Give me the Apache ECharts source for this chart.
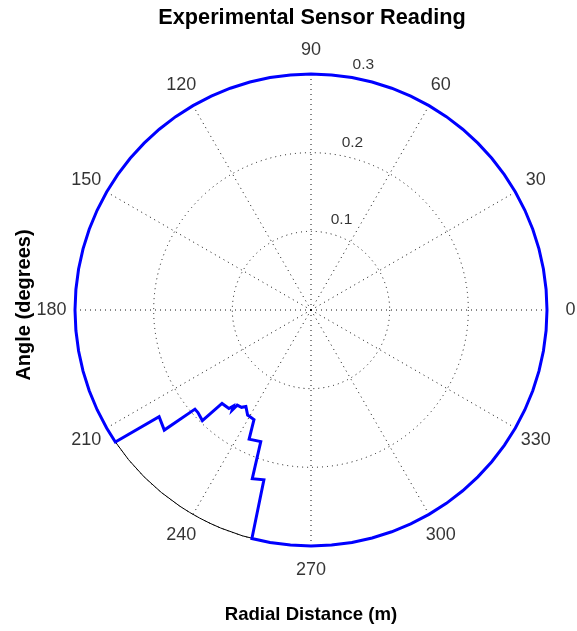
<!DOCTYPE html>
<html>
<head>
<meta charset="utf-8">
<title>Experimental Sensor Reading</title>
<script src="https://cdn.jsdelivr.net/npm/echarts@6/dist/echarts.min.js"></script>
<style>
  html, body { margin: 0; padding: 0; background: #fff; }
  #chart { width: 577px; height: 631px; }
</style>
</head>
<body>
<div id="chart"></div>
<script>
// Sensor trace: angle (degrees) and radial distance (m)
const traceAngle = [
  0, 5, 10, 15, 20, 25, 30, 35, 40, 45, 50, 55, 60, 65, 70, 75, 80, 85, 90,
  95, 100, 105, 110, 115, 120, 125, 130, 135, 140, 145, 150, 155, 160, 165,
  170, 175, 180, 185, 190, 195, 200, 205, 210,
  214.0, 215.1, 219.3, 220.5, 222.2, 225.5, 226.4, 230.2, 231.0, 231.8,
  232.2, 234.5, 236.0, 238.9, 242.5, 244.4, 249.1, 250.8, 254.5, 255.5,
  260, 265, 270, 275, 280, 285, 290, 295, 300, 305, 310, 315, 320, 325,
  330, 335, 340, 345, 350, 355, 360
];
const traceRange = [
  0.300, 0.300, 0.300, 0.300, 0.300, 0.300, 0.300, 0.300, 0.300, 0.300,
  0.300, 0.300, 0.300, 0.300, 0.300, 0.300, 0.300, 0.300, 0.300, 0.300,
  0.300, 0.300, 0.300, 0.300, 0.300, 0.300, 0.300, 0.300, 0.300, 0.300,
  0.300, 0.300, 0.300, 0.300, 0.300, 0.300, 0.300, 0.300, 0.300, 0.300,
  0.300, 0.300, 0.300,
  0.300, 0.236, 0.241, 0.194, 0.194, 0.197, 0.164, 0.163, 0.157, 0.162,
  0.153, 0.152, 0.148, 0.156, 0.157, 0.182, 0.179, 0.227, 0.224, 0.300,
  0.300, 0.300, 0.300, 0.300, 0.300, 0.300, 0.300, 0.300, 0.300, 0.300,
  0.300, 0.300, 0.300, 0.300, 0.300, 0.300, 0.300, 0.300, 0.300, 0.300,
  0.300
];

// Angle tick labels and radial ring labels
const angleTicks = [0, 30, 60, 90, 120, 150, 180, 210, 240, 270, 300, 330];
const ringTicks = [0.1, 0.2, 0.3];

const RMAX = 0.3;
const CENTER = [311, 310];
const RADIUS = 236;
// the trace gets its own, slightly larger, polar frame with the same scale
// so the polar clip region does not cut the outer half of the thick line
const TRACE_RADIUS = 250;
const TRACE_RMAX = RMAX * TRACE_RADIUS / RADIUS;

const FONT = 'Liberation Sans, Arial, Helvetica, sans-serif';
const dotted = { color: '#111', width: 1, type: [1, 4] };
const hiddenAxis = {
  axisLine: { show: false }, axisTick: { show: false },
  axisLabel: { show: false }, splitLine: { show: false }
};

const chart = echarts.init(document.getElementById('chart'), null, { renderer: 'canvas' });

chart.setOption({
  animation: false,
  backgroundColor: '#fff',
  polar: [
    { center: CENTER, radius: RADIUS },
    { center: CENTER, radius: TRACE_RADIUS }
  ],
  angleAxis: [
    {
      polarIndex: 0,
      type: 'value', min: 0, max: 360, interval: 30,
      startAngle: 0, clockwise: false,
      axisLine: { show: true, lineStyle: { color: '#000', width: 1 } },
      axisTick: { show: false },
      axisLabel: { show: false },
      splitLine: { show: true, lineStyle: dotted }
    },
    Object.assign({
      polarIndex: 1,
      type: 'value', min: 0, max: 360, interval: 30,
      startAngle: 0, clockwise: false
    }, hiddenAxis)
  ],
  radiusAxis: [
    {
      polarIndex: 0,
      type: 'value', min: 0, max: RMAX, interval: 0.1,
      axisLine: { show: false },
      axisTick: { show: false },
      axisLabel: { show: false },
      splitLine: { show: true, lineStyle: dotted }
    },
    Object.assign({
      polarIndex: 1,
      type: 'value', min: 0, max: TRACE_RMAX
    }, hiddenAxis)
  ],
  series: [
    {
      type: 'line',
      coordinateSystem: 'polar',
      polarIndex: 1,
      data: traceAngle.map((a, i) => [traceRange[i], a]),
      showSymbol: false,
      symbol: 'none',
      clip: false,
      lineStyle: { color: '#0000ff', width: 3, join: 'miter', cap: 'butt' },
      z: 10
    },
    {
      // angle labels sit just outside the outer ring
      type: 'scatter',
      coordinateSystem: 'polar',
      polarIndex: 0,
      clip: false,
      silent: true,
      symbolSize: 1,
      itemStyle: { color: 'rgba(0,0,0,0)' },
      data: angleTicks.map(a => ({ value: [RMAX * 1.1, a], name: String(a) })),
      label: {
        show: true, position: 'inside',
        formatter: p => p.name,
        color: '#000', fontSize: 18, fontFamily: FONT,
        align: 'center', verticalAlign: 'middle'
      },
      z: 11
    },
    {
      // ring values along the 82 degree direction
      type: 'scatter',
      coordinateSystem: 'polar',
      polarIndex: 0,
      clip: false,
      silent: true,
      symbolSize: 1,
      itemStyle: { color: 'rgba(0,0,0,0)' },
      data: ringTicks.map(v => ({ value: [v + 0.005, 82], name: v.toFixed(1) })),
      label: {
        show: true, position: 'inside',
        formatter: p => p.name,
        color: '#000', fontSize: 15.5, fontFamily: FONT,
        align: 'center', verticalAlign: 'middle',
        offset: [19, -8]
      },
      z: 11
    }
  ],
  graphic: [
    {
      type: 'text', x: 312, y: 18,
      style: {
        text: 'Experimental Sensor Reading', fill: '#000',
        font: 'bold 21.7px ' + FONT, align: 'center', verticalAlign: 'middle'
      }
    },
    {
      type: 'text', x: 311, y: 615,
      style: {
        text: 'Radial Distance (m)', fill: '#000',
        font: 'bold 18.6px ' + FONT, align: 'center', verticalAlign: 'middle'
      }
    },
    {
      type: 'text', x: 24, y: 305, rotation: Math.PI / 2,
      style: {
        text: 'Angle (degrees)', fill: '#000',
        font: 'bold 20px ' + FONT, align: 'center', verticalAlign: 'middle'
      }
    }
  ]
});
</script>
</body>
</html>
